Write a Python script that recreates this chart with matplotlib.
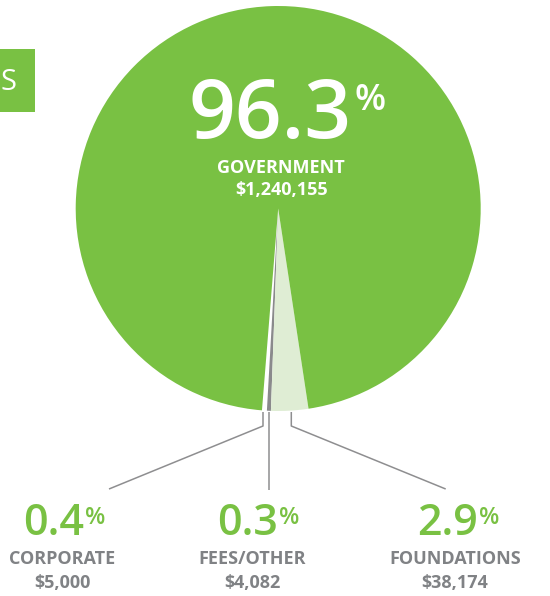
import matplotlib
matplotlib.use("Agg")
import matplotlib.pyplot as plt

# ---- data ----
categories = ["CORPORATE", "FEES/OTHER", "FOUNDATIONS", "GOVERNMENT"]
amounts = [5000, 4082, 38174, 1240155]
amount_labels = ["$5,000", "$4,082", "$38,174", "$1,240,155"]
pct_labels = ["0.4", "0.3", "2.9", "96.3"]
colors = ["#ffffff", "#8a8a8c", "#dfedd4", "#79c143"]

W, H = 550, 596
GREEN = "#79c143"
GRAY = "#808285"
LINE = "#8e8e90"
FONT = "Open Sans"

fig = plt.figure(figsize=(W / 100, H / 100), dpi=100)
ax = fig.add_axes([0, 0, 1, 1])


def Y(y):
    return H - y


cx, cy, r = 278.2, 208.5, 202.5
ax.pie(amounts, colors=colors, startangle=265.4, counterclock=True,
       center=(cx, Y(cy)), radius=r, frame=True,
       wedgeprops=dict(linewidth=0, antialiased=True))
ax.set_xlim(0, W)
ax.set_ylim(0, H)
ax.set_aspect("equal")
ax.axis("off")

# green tab at top-left with cut-off title letter
ax.add_patch(plt.Rectangle((0, Y(112)), 35, 63, color=GREEN, lw=0))
ax.text(0, Y(83), "S", color="white", fontsize=21, family=FONT,
        ha="left", va="center")

# leader lines
lw = 1.1
ax.plot([263, 263, 109], [Y(412), Y(426), Y(489)], color=LINE, lw=lw, solid_capstyle="butt")
ax.plot([268.7, 268.7], [Y(412), Y(490)], color=LINE, lw=lw, solid_capstyle="butt")
ax.plot([291.3, 291.3, 445.7], [Y(412), Y(426), Y(489)], color=LINE, lw=lw, solid_capstyle="butt")

# main label
ax.text(352, Y(138), pct_labels[3], color="white", fontsize=59, family=FONT,
        fontweight="semibold", ha="right", va="baseline")
ax.text(354, Y(83), "%", color="white", fontsize=26, family=FONT,
        fontweight="semibold", ha="left", va="top")
ax.text(281, Y(173), categories[3], color="white", fontsize=13, family=FONT,
        fontweight="bold", ha="center", va="baseline")
ax.text(282, Y(195), amount_labels[3], color="white", fontsize=13, family=FONT,
        fontweight="bold", ha="center", va="baseline")

# bottom labels
num_right = [84, 278, 478]
lab_x = [62.5, 252, 455]
for i in range(3):
    ax.text(num_right[i], Y(535), pct_labels[i], color=GREEN, fontsize=31, family=FONT,
            fontweight="semibold", ha="right", va="baseline")
    ax.text(num_right[i] + 1.5, Y(506), "%", color=GREEN, fontsize=17, family=FONT,
            fontweight="semibold", ha="left", va="top")
    ax.text(lab_x[i], Y(564), categories[i], color=GRAY, fontsize=13, family=FONT,
            fontweight="bold", ha="center", va="baseline")
    ax.text(lab_x[i], Y(588), amount_labels[i], color=GRAY, fontsize=13, family=FONT,
            fontweight="bold", ha="center", va="baseline")

fig.savefig("out.png", dpi=100)
